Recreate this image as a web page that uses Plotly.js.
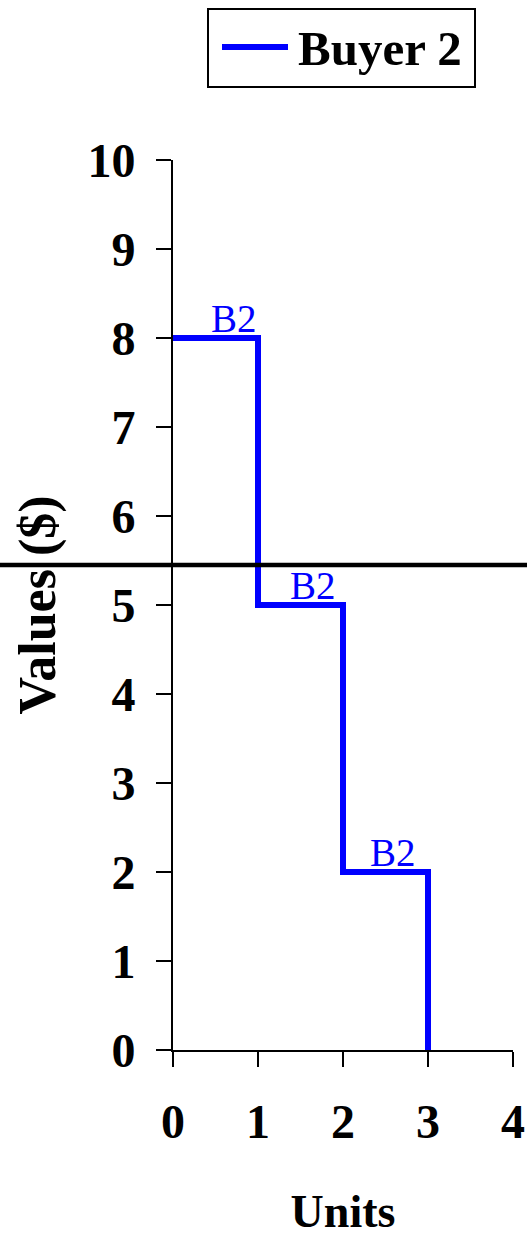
<!DOCTYPE html>
<html>
<head>
<meta charset="utf-8">
<script src="https://cdn.plot.ly/plotly-3.0.1.min.js"></script>
<style>
  html, body { margin: 0; padding: 0; background: #ffffff; }
  #chart { width: 527px; height: 1243px; }
</style>
</head>
<body>
<div id="chart"></div>
<script>
// Demand schedule for Buyer 2: value of each successive unit
const units = [0, 1, 2, 3];
const values = [8, 5, 2, 0];
const seriesName = 'Buyer 2';

// Step labels placed above each flat segment
const labelText = ['B2', 'B2', 'B2'];
const labelX = [0.72, 1.65, 2.59];
const labelY = [8, 5, 2];

// Market price line
const priceLevel = 5.45;

const xTicks = [0, 1, 2, 3, 4];
const yTicks = [0, 1, 2, 3, 4, 5, 6, 7, 8, 9, 10];

const serif = 'Liberation Serif, Times New Roman, serif';
const blue = '#0000ff';

// Figure geometry (pixels) used to place the legend box in paper units
const W = 527, H = 1243;
const M = { l: 173, r: 14, t: 160, b: 193 };
const plotW = W - M.l - M.r, plotH = H - M.t - M.b;
const px = v => (v - M.l) / plotW;
const py = v => (H - M.b - v) / plotH;

const trace = {
  x: units,
  y: values,
  type: 'scatter',
  mode: 'lines',
  name: seriesName,
  line: { color: blue, width: 6, shape: 'hv' },
  showlegend: false,
  hoverinfo: 'skip'
};

const annotations = labelText.map((t, i) => ({
  x: labelX[i], y: labelY[i], xref: 'x', yref: 'y',
  text: t, showarrow: false, xanchor: 'center', yanchor: 'bottom',
  yshift: -4,
  font: { family: serif, size: 39, color: blue }
}));

// Legend entry text
annotations.push({
  x: px(296), y: py(48), xref: 'paper', yref: 'paper',
  text: '<b>' + seriesName + '</b>', showarrow: false,
  xanchor: 'left', yanchor: 'middle',
  font: { family: serif, size: 49, color: '#000000' }
});

const layout = {
  width: W,
  height: H,
  margin: M,
  paper_bgcolor: '#ffffff',
  plot_bgcolor: '#ffffff',
  showlegend: false,
  font: { family: serif, color: '#000000' },
  xaxis: {
    range: [0, 4],
    tickvals: xTicks,
    ticktext: xTicks.map(String),
    ticks: 'outside', ticklen: 15, tickwidth: 2, tickcolor: '#000000',
    showline: true, linecolor: '#000000', linewidth: 2,
    showgrid: false, zeroline: false,
    ticklabelstandoff: 13,
    tickfont: { family: serif, size: 48, color: '#000000', weight: 'bold' },
    title: { text: '<b>Units</b>', font: { family: serif, size: 46, color: '#000000' }, standoff: 48 }
  },
  yaxis: {
    range: [0, 10],
    tickvals: yTicks,
    ticktext: yTicks.map(String),
    ticks: 'outside', ticklen: 15, tickwidth: 2, tickcolor: '#000000',
    showline: true, linecolor: '#000000', linewidth: 2,
    showgrid: false, zeroline: false,
    ticklabelstandoff: 11,
    tickfont: { family: serif, size: 48, color: '#000000', weight: 'bold' },
    title: { text: '<b>Values ($)</b>', font: { family: serif, size: 52, color: '#000000' }, standoff: 15 }
  },
  annotations: annotations,
  shapes: [
    {
      type: 'line', xref: 'paper', yref: 'y',
      x0: -0.6, x1: 1.1, y0: priceLevel, y1: priceLevel,
      line: { color: '#000000', width: 4.5 }
    },
    // Legend frame and line sample
    {
      type: 'rect', xref: 'paper', yref: 'paper',
      x0: px(208), x1: px(475), y0: py(9), y1: py(87),
      line: { color: '#000000', width: 2 }, fillcolor: 'rgba(0,0,0,0)'
    },
    {
      type: 'line', xref: 'paper', yref: 'paper',
      x0: px(222), x1: px(288), y0: py(47), y1: py(47),
      line: { color: blue, width: 6 }
    }
  ]
};

Plotly.newPlot('chart', [trace], layout, { staticPlot: true, displayModeBar: false });
</script>
</body>
</html>
